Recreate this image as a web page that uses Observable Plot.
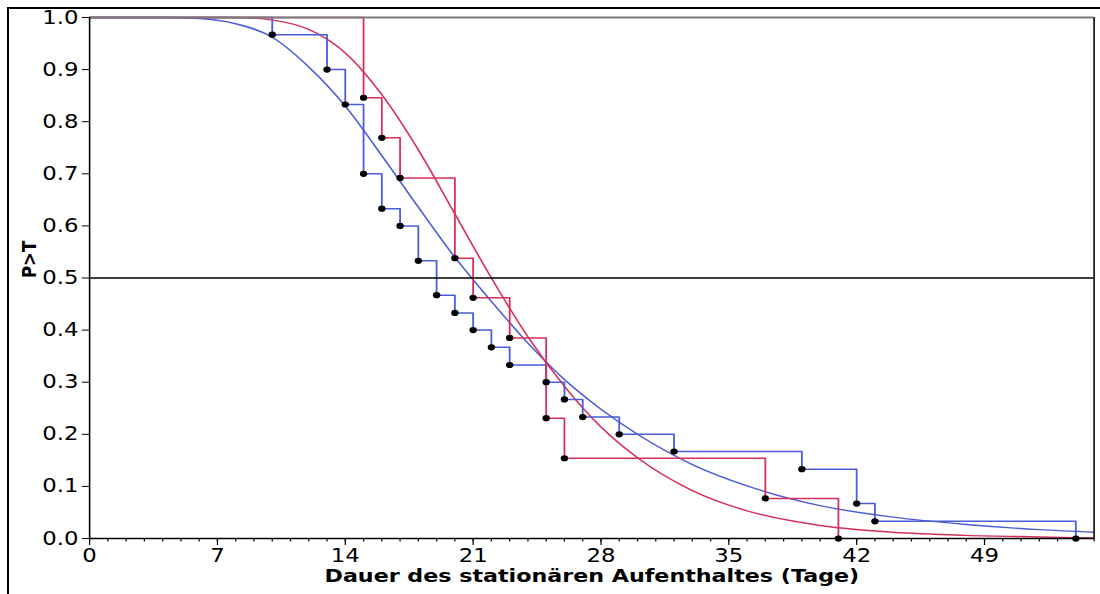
<!DOCTYPE html>
<html>
<head>
<meta charset="utf-8">
<script src="https://cdn.jsdelivr.net/npm/d3@7"></script>
<script src="https://cdn.jsdelivr.net/npm/@observablehq/plot@0.6"></script>
<style>
  html, body { margin: 0; padding: 0; background: #fff; }
  #wrap { position: relative; width: 1100px; height: 594px; overflow: hidden; background: #fff; }
  #frame { position: absolute; left: 7px; top: 7px; width: 1200px; height: 700px;
           border-top: 2px solid #000; border-left: 2px solid #000; pointer-events: none; }
</style>
</head>
<body>
<div id="wrap"><div id="chart"></div><div id="frame"></div></div>
<script>
// Kaplan–Meier steps (blue group, n≈30)
const blueTimes = [0, 10, 13, 14, 15, 16, 17, 18, 19, 20, 21, 22, 23, 25, 26, 27, 29, 32, 39, 42, 43, 54];
const blueSurv  = [1, 0.967, 0.9, 0.833, 0.7, 0.633, 0.6, 0.533, 0.467, 0.433, 0.4, 0.367, 0.333, 0.3, 0.267, 0.233, 0.2, 0.167, 0.133, 0.067, 0.033, 0];
// Kaplan–Meier steps (red group, n≈13)
const redTimes = [0, 15, 16, 17, 20, 21, 23, 25, 26, 37, 41];
const redSurv  = [1, 0.846, 0.769, 0.692, 0.538, 0.462, 0.385, 0.231, 0.154, 0.077, 0];
// fitted curves
const curveDays = [0, 4, 6, 8, 10, 12, 14, 16, 18, 20, 22, 24, 26, 28, 30, 33, 36, 40, 44, 48, 52, 55];
const blueFit   = [1, 1, 0.998, 0.988, 0.962, 0.905, 0.830, 0.735, 0.636, 0.540, 0.455, 0.375, 0.305, 0.248, 0.200, 0.142, 0.101, 0.063, 0.041, 0.027, 0.017, 0.012];
const redFit    = [1, 1, 1, 1, 0.995, 0.977, 0.932, 0.852, 0.746, 0.623, 0.500, 0.387, 0.292, 0.214, 0.155, 0.092, 0.053, 0.025, 0.012, 0.006, 0.003, 0.001];
// ticks
const xMajorTicks = [0, 7, 14, 21, 28, 35, 42, 49];
const xMinorTicks = d3.range(0, 56);
const yTicks = [0, 0.1, 0.2, 0.3, 0.4, 0.5, 0.6, 0.7, 0.8, 0.9, 1.0];
const xTitle = "Dauer des stationären Aufenthaltes (Tage)";
const yTitle = "P>T";

const BLUE = "#4a5cd8", RED = "#d4305a";
const blueKM = blueTimes.map((t, i) => ({t, s: blueSurv[i]}));
const redKM = redTimes.map((t, i) => ({t, s: redSurv[i]}));
const blueCurve = curveDays.map((t, i) => ({t, s: blueFit[i]}));
const redCurve = curveDays.map((t, i) => ({t, s: redFit[i]}));

const SX = 1.2;                 // horizontal stretch of the original picture
const W = 1100 / SX, H = 594;

const chart = Plot.plot({
  width: W, height: H,
  marginTop: 17, marginBottom: 56, marginLeft: 89 / SX, marginRight: 6.5 / SX,
  style: {fontFamily: "'DejaVu Sans', Verdana, sans-serif", fontSize: "19px", color: "#000", background: "transparent", overflow: "visible"},
  x: {domain: [0, 55]},
  y: {domain: [0, 1]},
  marks: [
    Plot.line(blueCurve, {x: "t", y: "s", curve: "monotone-x", stroke: BLUE, strokeWidth: 1.4}),
    Plot.line(redCurve, {x: "t", y: "s", curve: "monotone-x", stroke: RED, strokeWidth: 1.4}),
    Plot.line(blueKM, {x: "t", y: "s", curve: "step-after", stroke: BLUE, strokeWidth: 1.5}),
    Plot.line(redKM, {x: "t", y: "s", curve: "step-after", stroke: RED, strokeWidth: 1.5}),
    Plot.ruleY([0.5], {stroke: "#000", strokeWidth: 1.3}),
    Plot.ruleY([1], {stroke: "#7a7a7a", strokeWidth: 2}),
    Plot.ruleX([55], {stroke: "#222", strokeWidth: 1.5}),
    Plot.ruleX([0], {stroke: "#000", strokeWidth: 1.3}),
    Plot.ruleY([0], {stroke: "#000", strokeWidth: 1.3}),
    Plot.dot(blueKM.filter(d => d.t > 0), {x: "t", y: "s", r: 3.1, fill: "#000"}),
    Plot.dot(redKM.filter(d => d.t > 0), {x: "t", y: "s", r: 3.1, fill: "#000"}),
    Plot.axisX({ticks: xMinorTicks, tickSize: 3.5, fill: "none", stroke: "#000", label: null}),
    Plot.axisX({ticks: xMajorTicks, tickSize: 7, tickPadding: 3, label: null, fontSize: 19}),
    Plot.axisY({ticks: yTicks, tickSize: 6, tickPadding: 3.2, tickFormat: d3.format(".1f"), label: null, fontSize: 19}),
    Plot.text([xTitle], {frameAnchor: "bottom", dy: 38, fontWeight: "bold", fontSize: 18.5, lineAnchor: "middle"}),
    Plot.text([yTitle], {frameAnchor: "left", dx: 29 / SX - 89 / SX, rotate: -90, fontWeight: "bold", fontSize: 16.5, lineAnchor: "middle"})
  ]
});

chart.setAttribute("width", 1100);
chart.setAttribute("height", 594);
chart.setAttribute("preserveAspectRatio", "none");
chart.style.width = "1100px";
chart.style.height = "594px";
chart.style.maxWidth = "none";
chart.style.display = "block";
document.getElementById("chart").appendChild(chart);
</script>
</body>
</html>
